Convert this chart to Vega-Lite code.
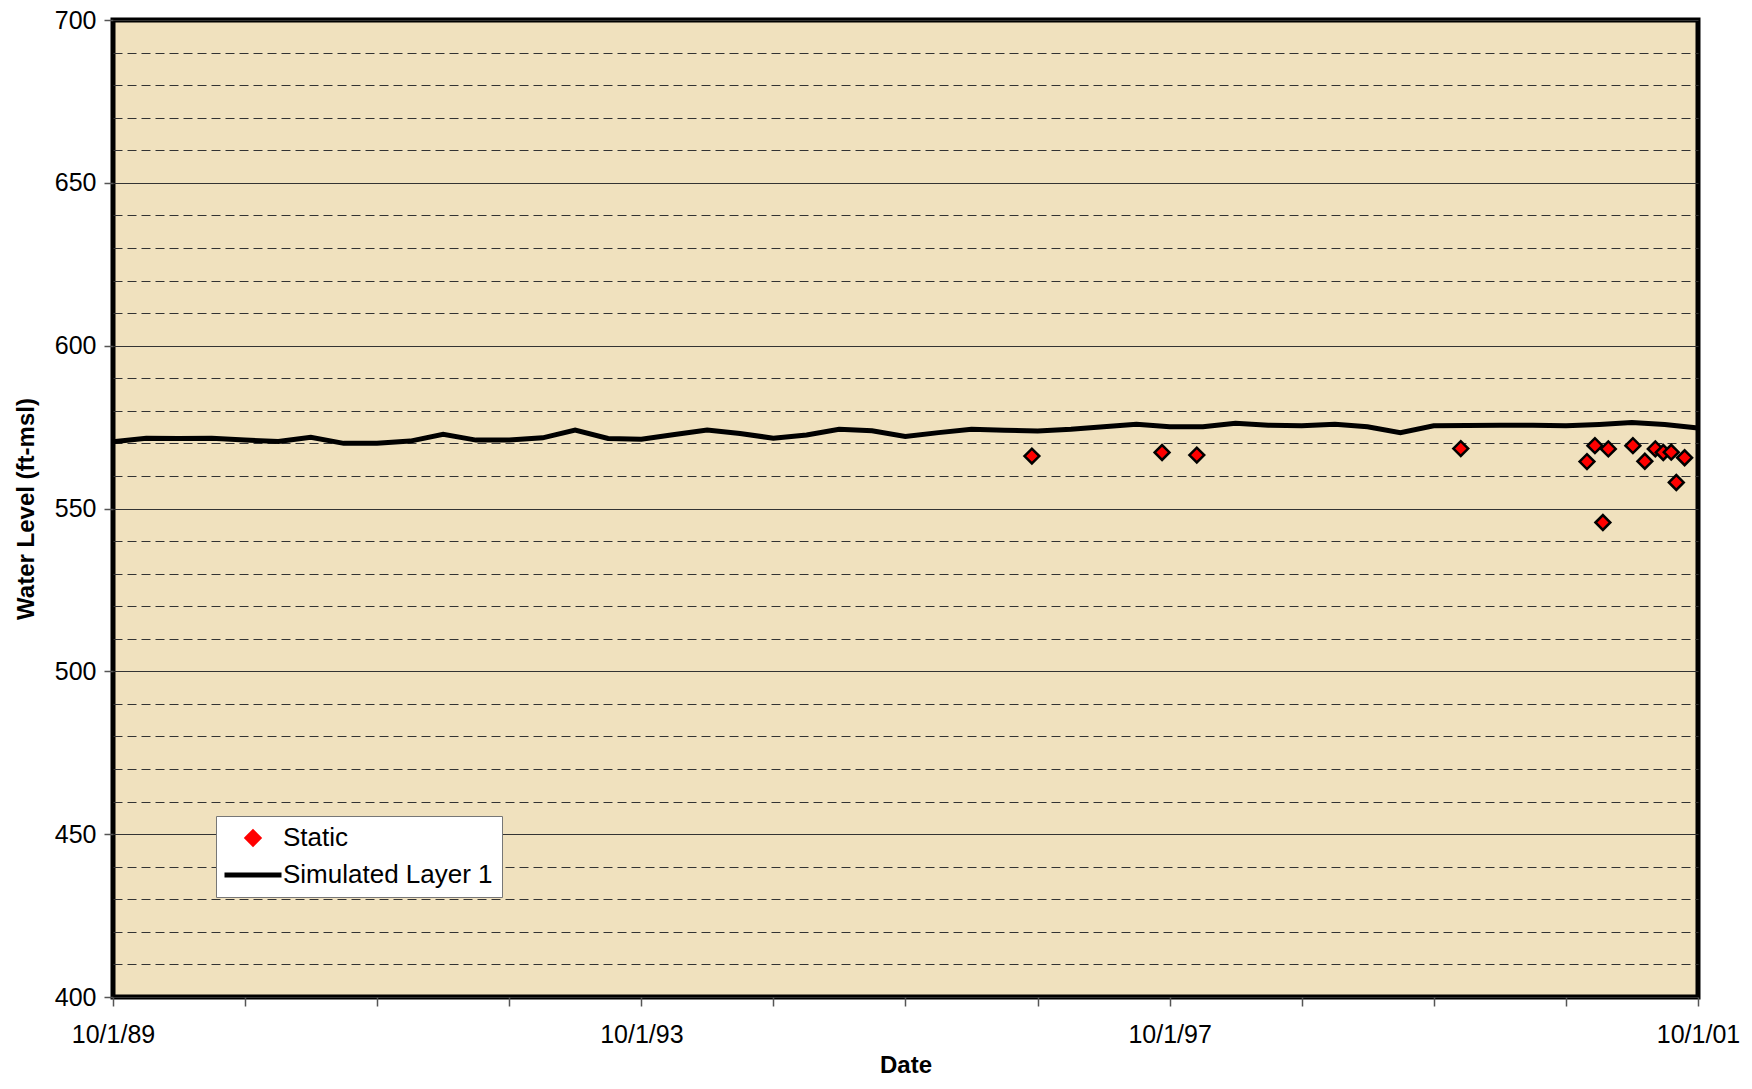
{
  "$schema": "https://vega.github.io/schema/vega-lite/v6.json",
  "width": 1585,
  "height": 977,
  "autosize": {"type": "none"},
  "padding": {"left": 113, "top": 20, "right": 54, "bottom": 92},
  "background": "white",
  "datasets": {
    "simulated": [
      {"date": "1989-10-01T00:00", "level": 570.5, "series": "Simulated Layer 1"},
      {"date": "1990-01-01T00:00", "level": 571.6, "series": "Simulated Layer 1"},
      {"date": "1990-04-01T00:00", "level": 571.5, "series": "Simulated Layer 1"},
      {"date": "1990-07-01T00:00", "level": 571.6, "series": "Simulated Layer 1"},
      {"date": "1990-10-01T00:00", "level": 571.0, "series": "Simulated Layer 1"},
      {"date": "1991-01-01T00:00", "level": 570.6, "series": "Simulated Layer 1"},
      {"date": "1991-04-01T00:00", "level": 571.9, "series": "Simulated Layer 1"},
      {"date": "1991-07-01T00:00", "level": 570.0, "series": "Simulated Layer 1"},
      {"date": "1991-10-01T00:00", "level": 570.0, "series": "Simulated Layer 1"},
      {"date": "1992-01-01T00:00", "level": 570.7, "series": "Simulated Layer 1"},
      {"date": "1992-04-01T00:00", "level": 572.8, "series": "Simulated Layer 1"},
      {"date": "1992-07-01T00:00", "level": 571.0, "series": "Simulated Layer 1"},
      {"date": "1992-10-01T00:00", "level": 571.0, "series": "Simulated Layer 1"},
      {"date": "1993-01-01T00:00", "level": 571.7, "series": "Simulated Layer 1"},
      {"date": "1993-04-01T00:00", "level": 574.1, "series": "Simulated Layer 1"},
      {"date": "1993-07-01T00:00", "level": 571.5, "series": "Simulated Layer 1"},
      {"date": "1993-10-01T00:00", "level": 571.3, "series": "Simulated Layer 1"},
      {"date": "1994-01-01T00:00", "level": 572.7, "series": "Simulated Layer 1"},
      {"date": "1994-04-01T00:00", "level": 574.1, "series": "Simulated Layer 1"},
      {"date": "1994-07-01T00:00", "level": 573.0, "series": "Simulated Layer 1"},
      {"date": "1994-10-01T00:00", "level": 571.6, "series": "Simulated Layer 1"},
      {"date": "1995-01-01T00:00", "level": 572.6, "series": "Simulated Layer 1"},
      {"date": "1995-04-01T00:00", "level": 574.3, "series": "Simulated Layer 1"},
      {"date": "1995-07-01T00:00", "level": 573.9, "series": "Simulated Layer 1"},
      {"date": "1995-10-01T00:00", "level": 572.1, "series": "Simulated Layer 1"},
      {"date": "1996-01-01T00:00", "level": 573.3, "series": "Simulated Layer 1"},
      {"date": "1996-04-01T00:00", "level": 574.3, "series": "Simulated Layer 1"},
      {"date": "1996-07-01T00:00", "level": 574.0, "series": "Simulated Layer 1"},
      {"date": "1996-10-01T00:00", "level": 573.8, "series": "Simulated Layer 1"},
      {"date": "1997-01-01T00:00", "level": 574.3, "series": "Simulated Layer 1"},
      {"date": "1997-04-01T00:00", "level": 575.1, "series": "Simulated Layer 1"},
      {"date": "1997-07-01T00:00", "level": 575.9, "series": "Simulated Layer 1"},
      {"date": "1997-10-01T00:00", "level": 575.1, "series": "Simulated Layer 1"},
      {"date": "1998-01-01T00:00", "level": 575.1, "series": "Simulated Layer 1"},
      {"date": "1998-04-01T00:00", "level": 576.2, "series": "Simulated Layer 1"},
      {"date": "1998-07-01T00:00", "level": 575.6, "series": "Simulated Layer 1"},
      {"date": "1998-10-01T00:00", "level": 575.4, "series": "Simulated Layer 1"},
      {"date": "1999-01-01T00:00", "level": 575.9, "series": "Simulated Layer 1"},
      {"date": "1999-04-01T00:00", "level": 575.1, "series": "Simulated Layer 1"},
      {"date": "1999-07-01T00:00", "level": 573.3, "series": "Simulated Layer 1"},
      {"date": "1999-10-01T00:00", "level": 575.4, "series": "Simulated Layer 1"},
      {"date": "2000-01-01T00:00", "level": 575.5, "series": "Simulated Layer 1"},
      {"date": "2000-04-01T00:00", "level": 575.6, "series": "Simulated Layer 1"},
      {"date": "2000-07-01T00:00", "level": 575.6, "series": "Simulated Layer 1"},
      {"date": "2000-10-01T00:00", "level": 575.4, "series": "Simulated Layer 1"},
      {"date": "2001-01-01T00:00", "level": 575.8, "series": "Simulated Layer 1"},
      {"date": "2001-04-01T00:00", "level": 576.4, "series": "Simulated Layer 1"},
      {"date": "2001-07-01T00:00", "level": 575.8, "series": "Simulated Layer 1"},
      {"date": "2001-10-01T00:00", "level": 574.7, "series": "Simulated Layer 1"}
    ],
    "static": [
      {"date": "1996-09-15T00:00", "level": 566.1, "series": "Static"},
      {"date": "1997-09-10T00:00", "level": 567.2, "series": "Static"},
      {"date": "1997-12-15T00:00", "level": 566.4, "series": "Static"},
      {"date": "1999-12-15T00:00", "level": 568.4, "series": "Static"},
      {"date": "2000-11-28T00:00", "level": 564.4, "series": "Static"},
      {"date": "2000-12-20T00:00", "level": 569.3, "series": "Static"},
      {"date": "2001-01-11T00:00", "level": 545.7, "series": "Static"},
      {"date": "2001-01-26T00:00", "level": 568.3, "series": "Static"},
      {"date": "2001-04-04T00:00", "level": 569.3, "series": "Static"},
      {"date": "2001-05-07T00:00", "level": 564.5, "series": "Static"},
      {"date": "2001-06-05T00:00", "level": 568.3, "series": "Static"},
      {"date": "2001-06-27T00:00", "level": 567.2, "series": "Static"},
      {"date": "2001-07-19T00:00", "level": 567.3, "series": "Static"},
      {"date": "2001-08-02T00:00", "level": 558.0, "series": "Static"},
      {"date": "2001-08-25T00:00", "level": 565.6, "series": "Static"}
    ]
  },
  "encoding": {
    "x": {
      "field": "date",
      "type": "temporal",
      "scale": {"domain": [{"year": 1989, "month": 10, "date": 1}, {"year": 2001, "month": 10, "date": 1}]},
      "axis": {
        "title": "Date",
        "values": [
          {"year": 1989, "month": 10, "date": 1}, {"year": 1990, "month": 10, "date": 1},
          {"year": 1991, "month": 10, "date": 1}, {"year": 1992, "month": 10, "date": 1},
          {"year": 1993, "month": 10, "date": 1}, {"year": 1994, "month": 10, "date": 1},
          {"year": 1995, "month": 10, "date": 1}, {"year": 1996, "month": 10, "date": 1},
          {"year": 1997, "month": 10, "date": 1}, {"year": 1998, "month": 10, "date": 1},
          {"year": 1999, "month": 10, "date": 1}, {"year": 2000, "month": 10, "date": 1},
          {"year": 2001, "month": 10, "date": 1}
        ],
        "labelExpr": "year(datum.value) % 4 === 1 ? timeFormat(datum.value, '%-m/%-d/%y') : ''",
        "grid": false,
        "domain": false,
        "tickColor": "#555",
        "tickSize": 9,
        "tickWidth": 1.5,
        "labelPadding": 16,
        "labelFlush": false,
        "labelOverlap": false,
        "titlePadding": 6
      }
    },
    "y": {
      "field": "level",
      "type": "quantitative",
      "scale": {"domain": [400, 700], "nice": false, "zero": false},
      "axis": {
        "title": "Water Level (ft-msl)",
        "values": [400,410,420,430,440,450,460,470,480,490,500,510,520,530,540,550,560,570,580,590,600,610,620,630,640,650,660,670,680,690,700],
        "labelExpr": "datum.value % 50 === 0 ? datum.label : ''",
        "grid": true,
        "gridColor": "#333",
        "gridWidth": 1,
        "gridDash": {"condition": {"test": "datum.value % 50 === 0", "value": []}, "value": [9, 5]},
        "domain": false,
        "tickColor": "#555",
        "tickSize": 9,
        "tickWidth": 1.5,
        "tickOpacity": {"condition": {"test": "datum.value % 50 === 0", "value": 1}, "value": 0},
        "labelPadding": 8,
        "labelOverlap": false,
        "titlePadding": 16
      }
    }
  },
  "layer": [
    {
      "data": {"name": "simulated"},
      "mark": {"type": "line", "strokeWidth": 5, "interpolate": "linear"},
      "encoding": {
        "color": {
          "field": "series",
          "type": "nominal",
          "scale": {"domain": ["Static", "Simulated Layer 1"], "range": ["#ff0000", "#000000"]},
          "legend": {
            "title": null,
            "orient": "none",
            "legendX": 103,
            "legendY": 796,
            "direction": "vertical",
            "fillColor": "white",
            "strokeColor": "#777",
            "padding": 9,
            "symbolOffset": 15,
            "symbolStrokeWidth": 5,
            "labelFontSize": 26,
            "labelFont": "Liberation Sans",
            "labelColor": "black",
            "labelOffset": 17,
            "labelLimit": 500,
            "rowPadding": 11,
            "cornerRadius": 0,
            "encode": {
              "symbols": {
                "update": {
                  "shape": {"signal": "datum.value === 'Static' ? 'diamond' : 'stroke'"},
                  "size": {"signal": "datum.value === 'Static' ? 220 : 3249"},
                  "fill": {"signal": "datum.value === 'Static' ? '#ff0000' : 'transparent'"},
                  "stroke": {"value": "black"},
                  "strokeWidth": {"signal": "datum.value === 'Static' ? 2.5 : 5"},
                  "opacity": {"value": 1}
                }
              }
            }
          }
        }
      }
    },
    {
      "data": {"name": "static"},
      "mark": {"type": "point", "shape": "diamond", "filled": true, "size": 220, "stroke": "black", "strokeWidth": 2.5, "opacity": 1},
      "encoding": {
        "color": {"field": "series", "type": "nominal"}
      }
    }
  ],
  "config": {
    "view": {"fill": "#F0E1BE", "stroke": "black", "strokeWidth": 5},
    "axis": {
      "labelFont": "Liberation Sans",
      "labelFontSize": 25,
      "labelColor": "black",
      "titleFont": "Liberation Sans",
      "titleFontSize": 24,
      "titleFontWeight": "bold",
      "titleColor": "black"
    }
  }
}
